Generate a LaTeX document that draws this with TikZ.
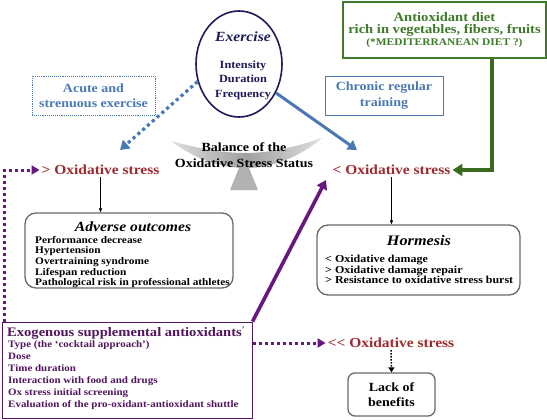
\documentclass[tikz,border=0pt]{standalone}
\usepackage{fontspec}
\setmainfont{Liberation Serif}[FakeStretch=1.12]
\usetikzlibrary{arrows.meta,shapes.geometric}
\definecolor{oxred}{HTML}{9C2A2E}
\definecolor{exblue}{HTML}{4A78B4}
\definecolor{navy}{HTML}{1C1A5A}
\definecolor{dgreen}{HTML}{3E7A28}
\definecolor{agreen}{HTML}{3A6A1C}
\definecolor{purp}{HTML}{52155F}
\definecolor{parrow}{HTML}{67187F}
\definecolor{boxgray}{HTML}{6A6A6A}
\tikzset{
  fs/.style={font=\fontsize{#1}{15.5}\selectfont\bfseries},
  oxtxt/.style={text=oxred, font=\fontsize{13.8}{15}\selectfont\bfseries, inner sep=2pt},
  rbox/.style={draw=boxgray, line width=1.3pt, rounded corners=11pt, inner sep=0pt},
  items/.style={align=left, anchor=north west, inner sep=0pt},
  tipT/.style={-{Triangle[length=9pt,width=11pt]}},
}
\begin{document}
\begin{tikzpicture}[x=1pt,y=-1pt]
\useasboundingbox (0,0) rectangle (547,420);

% balance graphic
\shade[left color=gray!25, right color=gray!25, middle color=gray!75]
  (171,141) .. controls (205,150) and (225,153) .. (246,153)
  .. controls (272,153) and (298,146) .. (322,138)
  .. controls (300,157) and (272,168) .. (246,168)
  .. controls (220,168) and (195,159) .. (171,141) -- cycle;
\fill[gray!60] (241,163) -- (247,163) -- (258,190) -- (230,190) -- cycle;
\node[fs=12.5, align=center, inner sep=0pt] (bal) at (244,155) {Balance of the\\Oxidative Stress Status};

% Exercise ellipse
\node[ellipse, draw=navy, line width=1.6pt, minimum width=86pt, minimum height=106pt, inner sep=0pt] (ex) at (239,64) {};
\node[font=\fontsize{14}{15}\selectfont\bfseries\itshape, text=navy, inner sep=0pt] (ext) at (243,37) {Exercise};
\node[font=\fontsize{11}{14.5}\selectfont\bfseries, text=navy, align=center, inner sep=0pt] (exi) at (243,80) {Intensity\\Duration\\Frequency};

% labelled boxes
\node[draw=exblue, densely dotted, line width=0.9pt, text=exblue, fs=12.5, align=center, minimum width=123pt, minimum height=39pt, inner sep=0pt] (acute) at (93.5,95.5) {Acute and\\strenuous exercise};
\node[draw=exblue, line width=0.9pt, text=exblue, fs=12.5, align=center, minimum width=118pt, minimum height=39pt, inner sep=0pt] (chronic) at (384,95.5) {Chronic regular\\training};
\node[draw=dgreen, line width=1.2pt, text=dgreen, align=center, minimum width=203pt, minimum height=56pt, inner sep=0pt] (diet) at (444.5,30)
  {\fontsize{13}{15.5}\selectfont\bfseries Antioxidant diet\\
   \fontsize{13}{15.5}\selectfont\bfseries rich in vegetables, fibers, fruits\\
   \fontsize{10.2}{13}\selectfont\bfseries (*MEDITERRANEAN DIET ?)};

% oxidative stress labels
\node[oxtxt] (ox1) at (100.5,170) {> Oxidative stress};
\node[oxtxt] (ox2) at (391.5,170) {< Oxidative stress};
\node[oxtxt] (ox3) at (391,343) {{<}{<} Oxidative stress};

% Adverse outcomes
\node[rbox, minimum width=208pt, minimum height=75pt] (adv) at (129,250.5) {};
\node[font=\fontsize{14}{16}\selectfont\bfseries\itshape, inner sep=0pt] (advt) at (133,227) {Adverse outcomes};
\node[items, font=\fontsize{10.1}{10.6}\selectfont\bfseries] (advi) at (35,236)
  {Performance decrease\\Hypertension\\Overtraining syndrome\\Lifespan reduction\\Pathological risk in professional athletes};

% Hormesis
\node[rbox, minimum width=203pt, minimum height=70pt] (hor) at (418.5,260) {};
\node[font=\fontsize{14.5}{16}\selectfont\bfseries\itshape, inner sep=0pt] (hort) at (419,241) {Hormesis};
\node[items, font=\fontsize{10.7}{10.6}\selectfont\bfseries] (hori) at (325,255)
  {< Oxidative damage\\> Oxidative damage repair\\> Resistance to oxidative stress burst};

% Exogenous
\node[draw=purp, line width=1pt, minimum width=250pt, minimum height=96pt, inner sep=0pt] (exo) at (127,370) {};
\node[anchor=west, text=purp, font=\fontsize{13}{16}\selectfont\bfseries, inner sep=0pt] (exot) at (7,333) {Exogenous supplemental antioxidants\textsuperscript{\fontsize{7}{7}\selectfont '}};
\node[items, text=purp, font=\fontsize{9.8}{12}\selectfont\bfseries] (exoi) at (8,340)
  {Type (the `cocktail approach')\\Dose\\Time duration\\Interaction with food and drugs\\Ox stress initial screening\\Evaluation of the pro-oxidant-antioxidant shuttle};

% Lack of benefits
\node[rbox, rounded corners=7pt, minimum width=87pt, minimum height=43pt, fs=12.5, align=center] (lack) at (391.5,394.5) {Lack of\\benefits};

% connectors
\coordinate (blueTipL) at (120,150);
\coordinate (blueTipR) at (357,150);
\coordinate (purTip) at (326,180);
\draw[exblue, line width=3.2pt, dash pattern=on 3.2pt off 3.2pt, tipT] (ex.203) -- (blueTipL);
\draw[exblue, line width=3pt, tipT] (ex.-38) -- (blueTipR);
\draw[agreen, line width=4pt, -{Triangle[length=10pt,width=12pt]}] ([xshift=47.5pt]diet.south) |- (ox2.east);
\draw[black, line width=0.6pt, -{Triangle[length=4pt,width=3pt]}] (ox1.south) -- (ox1.south |- adv.north);
\draw[black, line width=0.6pt, -{Triangle[length=4pt,width=3pt]}] (ox2.south) -- (ox2.south |- hor.north);
\draw[parrow, line width=3.6pt, tipT] (exo.north east) -- (purTip);
\draw[parrow, line width=3pt, dash pattern=on 3pt off 3pt, -{Triangle[length=8pt,width=9pt]}] ([xshift=3pt]exo.north west) |- (ox1.west);
\draw[parrow, line width=3pt, dash pattern=on 3pt off 3pt, -{Triangle[length=8pt,width=9pt]}] (exo.east |- ox3.west) -- (ox3.west);
\draw[black, line width=1.5pt, dash pattern=on 1.5pt off 1.5pt, -{Triangle[length=5pt,width=6pt]}] (ox3.south) -- (lack.north);
\end{tikzpicture}
\end{document}
